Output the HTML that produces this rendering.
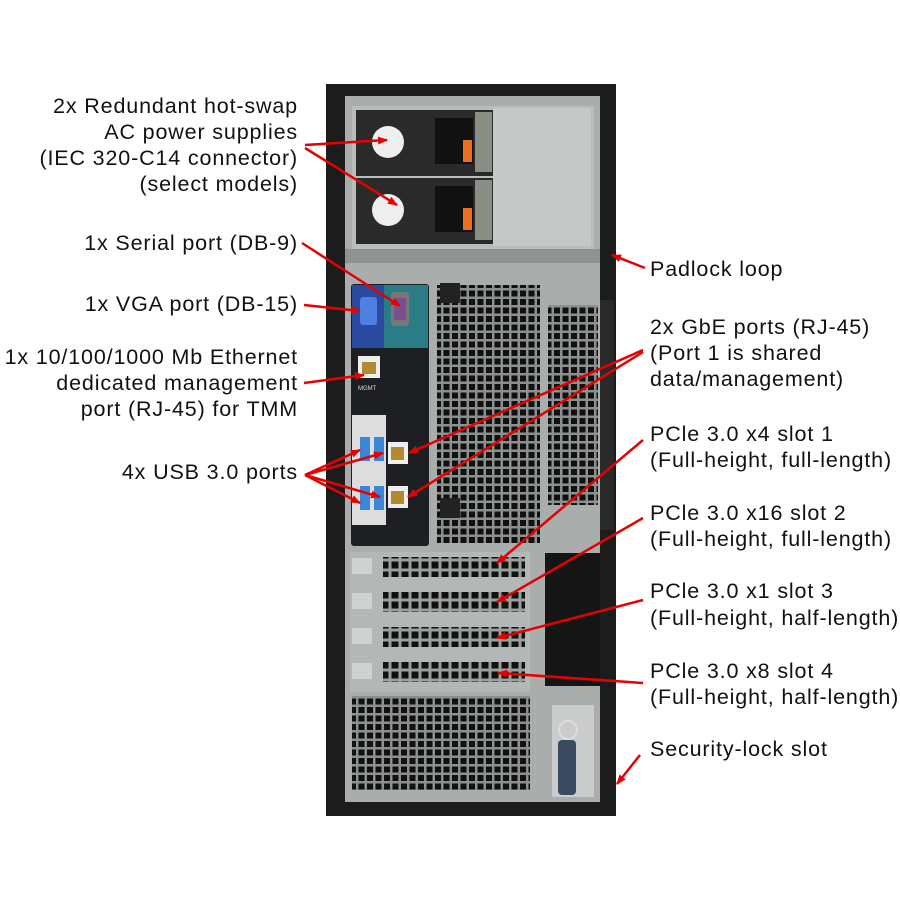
<!DOCTYPE html>
<html><head><style>
html,body{margin:0;padding:0;background:#fff;}
svg{display:block;}
text{font-family:"Liberation Sans",Arial,sans-serif;font-size:21.5px;letter-spacing:0.85px;fill:#111;}
</style></head><body>
<svg width="900" height="900" viewBox="0 0 900 900" xmlns="http://www.w3.org/2000/svg">
<defs>
<pattern id="mesh" width="8.5" height="8.5" patternUnits="userSpaceOnUse">
<rect width="8.5" height="8.5" fill="#8c9190"/><rect x="1.5" y="1.5" width="6" height="6" fill="#111"/>
</pattern>
<pattern id="slotmesh" width="10" height="10" patternUnits="userSpaceOnUse">
<rect width="10" height="10" fill="#9aa09e"/><rect x="1.5" y="1.5" width="7" height="7" fill="#111"/>
</pattern>
<marker id="ah" markerWidth="10" markerHeight="8" refX="9" refY="4" orient="auto" markerUnits="userSpaceOnUse">
<path d="M0,0 L10,4 L0,8 z" fill="#e80000"/>
</marker>
</defs>
<rect x="326" y="84" width="290" height="732" fill="#1c1c1c"/>
<rect x="345" y="96" width="255" height="706" fill="#a9aead"/>
<rect x="352" y="106" width="242" height="143" fill="#b9bdbc"/>
<rect x="356" y="110" width="137" height="66" fill="#2a2a2a"/>
<rect x="356" y="178" width="137" height="66" fill="#2a2a2a"/>
<rect x="493" y="108" width="98" height="138" fill="#c4c8c7"/>
<circle cx="388" cy="142" r="16" fill="#eee"/>
<circle cx="388" cy="210" r="16" fill="#eee"/>
<rect x="435" y="118" width="38" height="46" fill="#111"/>
<rect x="435" y="186" width="38" height="46" fill="#111"/>
<rect x="463" y="140" width="9" height="22" fill="#e8701e"/>
<rect x="463" y="208" width="9" height="22" fill="#e8701e"/>
<rect x="475" y="112" width="17" height="60" fill="#8a8f86"/>
<rect x="475" y="180" width="17" height="60" fill="#8a8f86"/>
<rect x="345" y="249" width="255" height="14" fill="#8e9392"/>
<rect x="351" y="284" width="78" height="262" rx="3" fill="#1d1f22"/>
<rect x="352" y="285" width="32" height="63" fill="#2a4aa0"/>
<rect x="384" y="285" width="44" height="63" fill="#2a7d86"/>
<rect x="360" y="297" width="17" height="28" rx="3" fill="#4f7fe0"/>
<rect x="391" y="292" width="18" height="34" rx="3" fill="#777"/>
<rect x="394" y="298" width="12" height="22" fill="#7a4f8e"/>
<rect x="358" y="356" width="22" height="22" fill="#eee"/>
<rect x="362" y="362" width="14" height="12" fill="#b48a2e"/>
<text x="358" y="390" style="font-size:6px;letter-spacing:0;fill:#ddd">MGMT</text>
<rect x="352" y="415" width="34" height="110" fill="#ddd"/>
<rect x="360" y="437" width="10" height="24" fill="#3a86d8"/>
<rect x="374" y="437" width="10" height="24" fill="#3a86d8"/>
<rect x="360" y="486" width="10" height="24" fill="#3a86d8"/>
<rect x="374" y="486" width="10" height="24" fill="#3a86d8"/>
<rect x="388" y="442" width="20" height="22" fill="#eee"/>
<rect x="391" y="447" width="13" height="13" fill="#b48a2e"/>
<rect x="388" y="486" width="20" height="22" fill="#eee"/>
<rect x="391" y="491" width="13" height="13" fill="#b48a2e"/>
<rect x="437" y="285" width="103" height="258" fill="url(#mesh)"/>
<rect x="548" y="305" width="50" height="200" fill="url(#mesh)"/>
<rect x="440" y="283" width="20" height="20" fill="#222"/>
<rect x="440" y="498" width="20" height="20" fill="#222"/>
<rect x="600" y="300" width="14" height="230" fill="#2a2a2a"/>
<g>
<rect x="350" y="552" width="180" height="140" fill="#b3b8b7"/>
<rect x="383" y="557" width="142" height="20" fill="url(#slotmesh)"/>
<rect x="383" y="592" width="142" height="20" fill="url(#slotmesh)"/>
<rect x="383" y="627" width="142" height="20" fill="url(#slotmesh)"/>
<rect x="383" y="662" width="142" height="20" fill="url(#slotmesh)"/>
<rect x="352" y="558" width="20" height="16" fill="#cfd2d1"/>
<rect x="352" y="593" width="20" height="16" fill="#cfd2d1"/>
<rect x="352" y="628" width="20" height="16" fill="#cfd2d1"/>
<rect x="352" y="663" width="20" height="16" fill="#cfd2d1"/>
<rect x="545" y="553" width="55" height="133" fill="#151515"/>
</g>
<rect x="352" y="696" width="178" height="94" fill="url(#mesh)"/>
<rect x="552" y="705" width="42" height="92" fill="#c9cccb"/>
<circle cx="568" cy="730" r="9" fill="none" stroke="#ddd" stroke-width="2"/>
<rect x="558" y="740" width="18" height="55" rx="4" fill="#3a4a60"/>
<g stroke="#e80000" stroke-width="2.5" fill="none" marker-end="url(#ah)">
<line x1="305" y1="145" x2="387" y2="140"/>
<line x1="305" y1="148" x2="397" y2="205"/>
<line x1="302" y1="243" x2="400" y2="306"/>
<line x1="304" y1="305" x2="360" y2="311"/>
<line x1="304" y1="383" x2="364" y2="375"/>
<line x1="305" y1="475" x2="360" y2="450"/>
<line x1="305" y1="475" x2="383" y2="453"/>
<line x1="305" y1="475" x2="360" y2="503"/>
<line x1="305" y1="475" x2="380" y2="497"/>
<line x1="643" y1="350" x2="409" y2="453"/>
<line x1="643" y1="352" x2="408" y2="497"/>
<line x1="645" y1="268" x2="612" y2="255"/>
<line x1="643" y1="440" x2="497" y2="563"/>
<line x1="643" y1="518" x2="497" y2="602"/>
<line x1="643" y1="600" x2="497" y2="638"/>
<line x1="643" y1="683" x2="498" y2="673"/>
<line x1="640" y1="755" x2="617" y2="784"/>
</g>
<g text-anchor="end">
<text x="298" y="113">2x Redundant hot-swap</text>
<text x="298" y="139">AC power supplies</text>
<text x="298" y="165">(IEC 320-C14 connector)</text>
<text x="298" y="191">(select models)</text>
<text x="298" y="250">1x Serial port (DB-9)</text>
<text x="298" y="311">1x VGA port (DB-15)</text>
<text x="298" y="364">1x 10/100/1000 Mb Ethernet</text>
<text x="298" y="390">dedicated management</text>
<text x="298" y="416">port (RJ-45) for TMM</text>
<text x="298" y="479">4x USB 3.0 ports</text>
</g>
<g>
<text x="650" y="276">Padlock loop</text>
<text x="650" y="334">2x GbE ports (RJ-45)</text>
<text x="650" y="360">(Port 1 is shared</text>
<text x="650" y="386">data/management)</text>
<text x="650" y="441">PCle 3.0 x4 slot 1</text>
<text x="650" y="467">(Full-height, full-length)</text>
<text x="650" y="520">PCle 3.0 x16 slot 2</text>
<text x="650" y="546">(Full-height, full-length)</text>
<text x="650" y="598">PCle 3.0 x1 slot 3</text>
<text x="650" y="625">(Full-height, half-length)</text>
<text x="650" y="678">PCle 3.0 x8 slot 4</text>
<text x="650" y="704">(Full-height, half-length)</text>
<text x="650" y="756">Security-lock slot</text>
</g>
</svg>
</body></html>
